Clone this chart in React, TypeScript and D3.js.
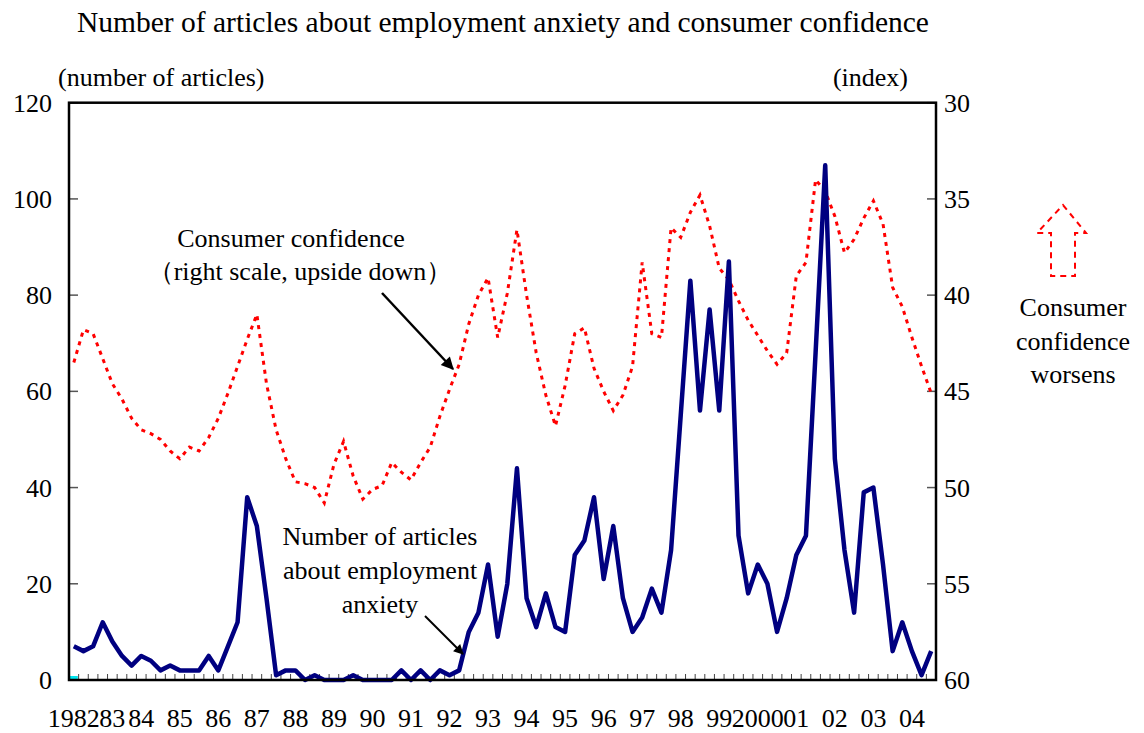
import * as React from "react"
import * as d3 from "d3"

// quarterly, first point 1982
const articles = [
  7, 6, 7, 12, 8, 5, 3, 5, 4, 2, 3, 2, 2, 2, 5, 2, 7, 12, 38, 32,
  17, 1, 2, 2, 0, 1, 0, 0, 0, 1, 0, 0, 0, 0, 2, 0, 2, 0, 2, 1,
  2, 10, 14, 24, 9, 20, 44, 17, 11, 18, 11, 10, 26, 29, 38, 21, 32, 17, 10, 13,
  19, 14, 27, 55, 83, 56, 77, 56, 87, 30, 18, 24, 20, 10, 17, 26, 30, 68, 107, 46,
  27, 14, 39, 40, 24, 6, 12, 6, 1, 6,
]

const confidence = [
  43.5, 41.8, 42.0, 43.3, 44.6, 45.4, 46.4, 47.0, 47.2, 47.5, 48.1, 48.5, 47.9, 48.1, 47.4, 46.4, 45.1, 43.7, 42.3, 41.0,
  44.6, 47.0, 48.5, 49.7, 49.8, 50.0, 50.8, 48.8, 47.6, 49.4, 50.6, 50.1, 49.9, 48.7, 49.2, 49.6, 48.7, 47.9, 46.3, 44.9,
  43.6, 41.5, 40.0, 39.1, 42.2, 39.9, 36.6, 40.0, 43.0, 45.2, 46.8, 44.7, 42.0, 41.7, 43.8, 45.0, 46.0, 45.2, 43.7, 38.3,
  42.0, 42.2, 36.5, 37.0, 35.7, 34.8, 36.4, 38.6, 39.2, 40.3, 41.3, 42.1, 42.9, 43.6, 43.0, 39.0, 38.3, 34.0, 34.6, 35.9,
  37.8, 37.1, 36.0, 35.1, 36.3, 39.6, 40.6, 42.2, 43.7, 45.1,
]

const yearLabels = ["1982", "83", "84", "85", "86", "87", "88", "89", "90", "91", "92", "93",
  "94", "95", "96", "97", "98", "99", "2000", "01", "02", "03", "04"]
const yearAt = [0, 4, 7, 11, 15, 19, 23, 27, 31, 35, 39, 43,
  47, 51, 55, 59, 63, 67, 71, 75, 79, 83, 87]

const leftTicks = [0, 20, 40, 60, 80, 100, 120]
const rightTicks = [30, 35, 40, 45, 50, 55, 60]

const W = 1144
const H = 733
const L = 69
const R = 936
const T = 102.7
const B = 680
const font = "'Times New Roman', 'Liberation Serif', serif"
const fs = 26

export default function App() {
  const n = articles.length
  const x = d3.scaleBand<number>().domain(d3.range(n)).range([L, R])
  const cx = (i: number) => (x(i) as number) + x.bandwidth() / 2
  const yL = d3.scaleLinear().domain([0, 120]).range([B, T])
  const yR = d3.scaleLinear().domain([30, 60]).range([T, B])

  const blueLine = d3.line<number>().x((d, i) => cx(i)).y((d) => yL(d))
  const redLine = d3.line<number>().x((d, i) => cx(i)).y((d) => yR(d))

  return (
    <svg width={W} height={H} style={{ position: "absolute", left: 0, top: 0, background: "#fff" }}
      fontFamily={font} fontSize={fs}>
      <defs>
        <marker id="ah" viewBox="0 0 10 10" refX="9" refY="5" markerWidth="6" markerHeight="5"
          markerUnits="strokeWidth" orient="auto">
          <path d="M0,0 L10,5 L0,10 z" fill="#000" />
        </marker>
      </defs>

      <text x={503} y={32} textAnchor="middle" fontSize={29.5}>Number of articles about employment anxiety and consumer confidence</text>
      <text x={58} y={86}>(number of articles)</text>
      <text x={908} y={86} textAnchor="end">(index)</text>

      {/* category ticks */}
      {d3.range(1, n).map((i) => (
        <line key={i} x1={x(i)} x2={x(i)} y1={B} y2={B - 6} stroke="#444" strokeWidth={1} />
      ))}

      {/* left axis */}
      {leftTicks.map((t) => (
        <g key={t}>
          <line x1={L} x2={L + 9} y1={yL(t)} y2={yL(t)} stroke="#555" strokeWidth={1.5} />
          <text x={52} y={yL(t)} dy="0.35em" textAnchor="end">{t}</text>
        </g>
      ))}

      {/* right axis, upside down */}
      {rightTicks.map((t) => (
        <g key={t}>
          <line x1={R - 9} x2={R} y1={yR(t)} y2={yR(t)} stroke="#555" strokeWidth={1.5} />
          <text x={944} y={yR(t)} dy="0.35em">{t}</text>
        </g>
      ))}

      {yearLabels.map((lab, k) => (
        <text key={lab} x={cx(yearAt[k])} y={727} textAnchor="middle">{lab}</text>
      ))}

      <path d={`M${L + 1},${yL(0) - 2}H${cx(0) + 4}`} stroke="#00e5ee" strokeWidth={4} />

      <path d={redLine(confidence) as string} fill="none" stroke="#ff0000" strokeWidth={3}
        strokeDasharray="4 5" />
      <path d={blueLine(articles) as string} fill="none" stroke="#000080" strokeWidth={4.5}
        strokeLinejoin="round" />

      <rect x={L} y={T} width={R - L} height={B - T} fill="none" stroke="#000" strokeWidth={2.5} />

      {/* annotations */}
      <text x={291} y={247} textAnchor="middle">Consumer confidence</text>
      <text x={300} y={280} textAnchor="middle">（right scale, upside down）</text>
      <line x1={382} y1={293} x2={453} y2={369} stroke="#000" strokeWidth={2.5} markerEnd="url(#ah)" />

      <text x={380} y={545} textAnchor="middle">Number of articles</text>
      <text x={380} y={579} textAnchor="middle">about employment</text>
      <text x={380} y={613} textAnchor="middle">anxiety</text>
      <line x1={425} y1={616} x2={463} y2={654} stroke="#000" strokeWidth={2} markerEnd="url(#ah)" />

      <path d="M1063,205 L1086,233 L1075,233 L1075,276 L1051,276 L1051,233 L1037,233 Z"
        fill="none" stroke="#ff0000" strokeWidth={2} strokeDasharray="6 5" />
      <text x={1073} y={316} textAnchor="middle">Consumer</text>
      <text x={1073} y={350} textAnchor="middle">confidence</text>
      <text x={1073} y={383} textAnchor="middle">worsens</text>
    </svg>
  )
}
